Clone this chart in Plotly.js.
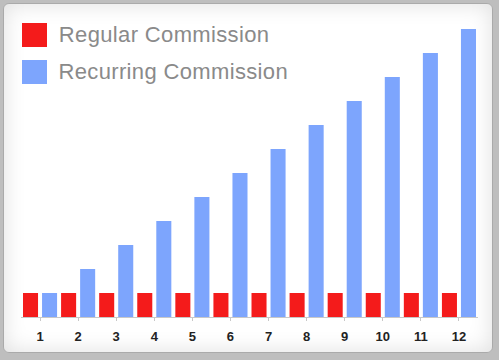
<!DOCTYPE html>
<html>
<head>
<meta charset="utf-8">
<script src="https://cdn.plot.ly/plotly-3.0.1.min.js"></script>
<style>
html,body{margin:0;padding:0;width:499px;height:360px;overflow:hidden;background:#bebebe;}
#panel{position:absolute;left:3px;top:3px;width:488px;height:348px;border-radius:6px;background:#ffffff;border:1px solid #aaaaaa;box-shadow:inset 0 0 22px rgba(0,0,0,0.13);}
#chart{position:absolute;left:0;top:0;width:499px;height:360px;}
#chart .annotation-text{letter-spacing:0.35px;}
</style>
</head>
<body>
<div id="panel"></div>
<div id="chart"></div>
<script>
const months = ["1","2","3","4","5","6","7","8","9","10","11","12"];
const regularCommission = [1,1,1,1,1,1,1,1,1,1,1,1];
const recurringCommission = [1,2,3,4,5,6,7,8,9,10,11,12];
const seriesNames = ["Regular Commission","Recurring Commission"];
const seriesColors = ["#f41b1b","#7da5fd"];

const traces = [
  {type:"bar", x:months, y:regularCommission, name:seriesNames[0], marker:{color:seriesColors[0]}, hoverinfo:"none"},
  {type:"bar", x:months, y:recurringCommission, name:seriesNames[1], marker:{color:seriesColors[1]}, hoverinfo:"none"}
];

const layout = {
  width:499, height:360,
  margin:{l:21, r:21, t:17, b:43},
  paper_bgcolor:"rgba(0,0,0,0)",
  plot_bgcolor:"rgba(0,0,0,0)",
  barmode:"group",
  bargap:0,
  bargroupgap:0.21,
  showlegend:false,
  xaxis:{
    type:"category",
    range:[-0.5, 11.5],
    showgrid:false, zeroline:false,
    showline:true, linecolor:"#c8c8c8", linewidth:1,
    ticks:"outside", ticklen:3, tickcolor:"#c8c8c8",
    ticklabelstandoff:4,
    tickfont:{family:"Liberation Sans, Arial, sans-serif", size:13, color:"#222222", weight:"bold"}
  },
  yaxis:{
    range:[0, 12.5],
    visible:false, showgrid:false, zeroline:false, fixedrange:true
  },
  shapes:[
    {type:"rect", xref:"paper", yref:"paper", xsizemode:"pixel", ysizemode:"pixel", xanchor:0, yanchor:1,
     x0:1, x1:26, y0:-6, y1:-30, fillcolor:seriesColors[0], line:{width:0}},
    {type:"rect", xref:"paper", yref:"paper", xsizemode:"pixel", ysizemode:"pixel", xanchor:0, yanchor:1,
     x0:1, x1:26, y0:-43, y1:-67, fillcolor:seriesColors[1], line:{width:0}}
  ],
  annotations:[
    {xref:"paper", yref:"paper", x:0, y:1, xanchor:"left", yanchor:"middle", xshift:39, yshift:-17, showarrow:false,
     text:seriesNames[0], font:{family:"Liberation Sans, Arial, sans-serif", size:22, color:"#8a8a8a"}},
    {xref:"paper", yref:"paper", x:0, y:1, xanchor:"left", yanchor:"middle", xshift:39, yshift:-54, showarrow:false,
     text:seriesNames[1], font:{family:"Liberation Sans, Arial, sans-serif", size:22, color:"#8a8a8a"}}
  ]
};

Plotly.newPlot("chart", traces, layout, {staticPlot:true, displayModeBar:false});
</script>
</body>
</html>
